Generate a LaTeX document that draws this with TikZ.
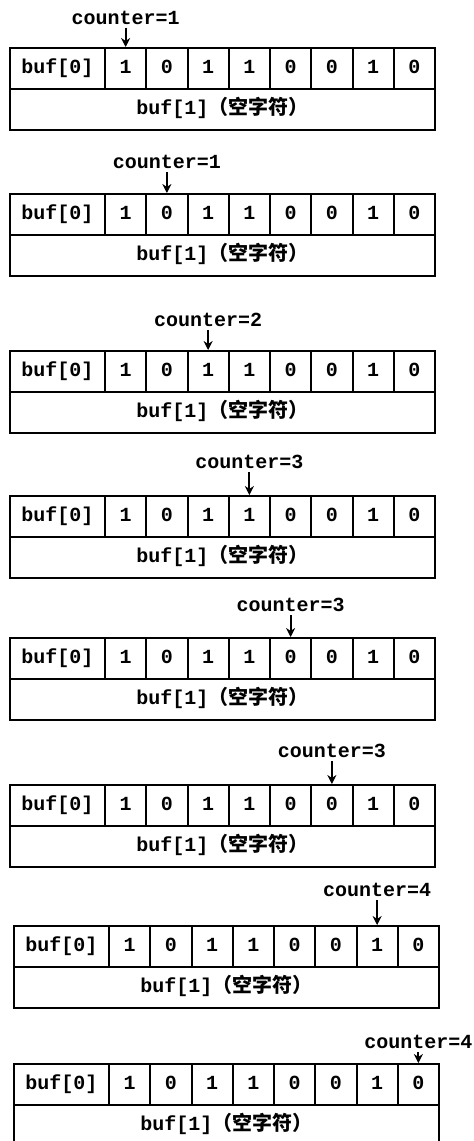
\documentclass[tikz,border=0pt]{standalone}
\usepackage{fontspec}
\setmonofont{Liberation Mono}
\newfontfamily\cjkfont{Noto Sans CJK SC}
\usetikzlibrary{arrows.meta,positioning}

\begin{document}
\begin{tikzpicture}[
  x=1pt, y=-1pt,
  cell/.style={
    draw=black,
    line width=2pt,
    anchor=north west,
    minimum width=41.25pt,
    minimum height=41pt,
    inner sep=0pt,
    text height=13pt,
    text depth=4pt,
    font=\ttfamily\bfseries\fontsize{20}{20}\selectfont
  },
  head/.style={cell, minimum width=95pt},
  nullrow/.style={cell, minimum width=425pt},
  marker/.style={
    inner sep=3pt,
    font=\ttfamily\bfseries\fontsize{20}{20}\selectfont
  },
  pointer/.style={-{Stealth[length=9pt,width=9pt]}, line width=1.8pt}
]
\useasboundingbox (0,0) rectangle (474,1141);

% one buffer per step: block / left / top / label height / counter
\foreach \k/\bx/\by/\ly/\cnt in {
  1/9/47/18/1, 2/9/193/162/1, 3/9/350/320/2, 4/9/495/462/3,
  5/9/637/605/3, 6/9/784/751/3, 7/13/925/890/4, 8/13/1063/1042/4} {
  \node[head] (h\k) at (\bx,\by) {buf[0]};
  \foreach \i/\bit in {1/1, 2/0, 3/1, 4/1, 5/0, 6/0, 7/1, 8/0}
    \node[cell] (c\k-\i) at (\bx+95+41.25*\i-41.25,\by) {\bit};
  \node[nullrow] (n\k) at (\bx,\by+41) {buf[1]\cjkfont（空字符）};
  \node[marker] (l\k) at (c\k-\k.north |- 0,\ly) {counter=\cnt};
  \draw[pointer] (l\k) -- (c\k-\k.north);
}

\end{tikzpicture}
\end{document}
